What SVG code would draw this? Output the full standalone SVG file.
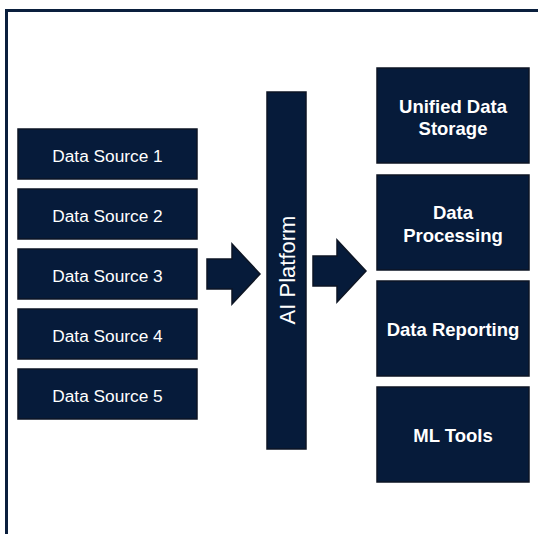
<svg xmlns="http://www.w3.org/2000/svg" width="538" height="534" viewBox="0 0 538 534">
<style>
.box{fill:#061b3a;stroke:#0d1524;stroke-width:1.5}
.arrow{fill:#061b3a;stroke:#0d1524;stroke-width:1.5;stroke-linejoin:miter}
.src{font-family:"Liberation Sans",Arial,sans-serif;font-size:17.3px;fill:#ffffff;text-anchor:middle}
.dst{font-family:"Liberation Sans",Arial,sans-serif;font-size:18.5px;font-weight:bold;fill:#ffffff;text-anchor:middle}
.ai{font-family:"Liberation Sans",Arial,sans-serif;font-size:22px;fill:#ffffff;text-anchor:middle}
</style>
<rect width="538" height="534" fill="#ffffff"/>
<path d="M6.5,534 V10.5 H538" fill="none" stroke="#0a1f3d" stroke-width="3"/>
<g id="ds1"><rect class="box" x="18" y="129" width="179" height="50"/><text class="src" x="107.5" y="161.5">Data Source 1</text></g>
<g id="ds2"><rect class="box" x="18" y="189" width="179" height="50"/><text class="src" x="107.5" y="221.5">Data Source 2</text></g>
<g id="ds3"><rect class="box" x="18" y="249" width="179" height="50"/><text class="src" x="107.5" y="281.5">Data Source 3</text></g>
<g id="ds4"><rect class="box" x="18" y="309" width="179" height="50"/><text class="src" x="107.5" y="341.5">Data Source 4</text></g>
<g id="ds5"><rect class="box" x="18" y="369" width="179" height="50"/><text class="src" x="107.5" y="401.5">Data Source 5</text></g>
<g id="ai-platform"><rect class="box" x="267" y="92" width="39" height="357"/><text class="ai" transform="translate(294.5,270) rotate(-90)">AI Platform</text></g>
<g id="storage"><rect class="box" x="377" y="68" width="152" height="95"/><text class="dst" x="453" y="112.5">Unified Data</text><text class="dst" x="453" y="135">Storage</text></g>
<g id="processing"><rect class="box" x="377" y="175" width="152" height="95"/><text class="dst" x="453" y="218.5">Data</text><text class="dst" x="453" y="241.5">Processing</text></g>
<g id="reporting"><rect class="box" x="377" y="281" width="152" height="95"/><text class="dst" x="453" y="336">Data Reporting</text></g>
<g id="ml-tools"><rect class="box" x="377" y="387" width="152" height="95"/><text class="dst" x="453" y="442">ML Tools</text></g>
<g id="connectors">
<polygon class="arrow" points="207,259 232,259 232,244 260,274 232,304 232,289 207,289"/>
<polygon class="arrow" points="313,256 337,256 337,240 366,271 337,302 337,286 313,286"/>
</g>
</svg>
